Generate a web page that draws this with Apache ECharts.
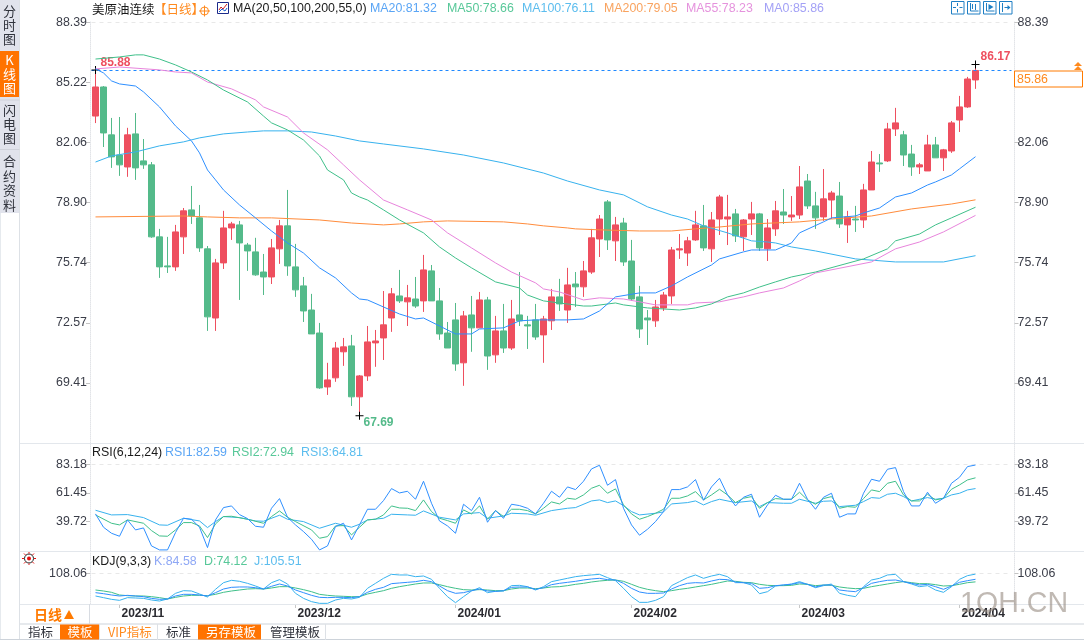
<!DOCTYPE html>
<html><head><meta charset="utf-8">
<style>html,body{margin:0;padding:0;background:#fff}#c{width:1084px;height:640px}</style>
<script src="https://cdn.jsdelivr.net/npm/echarts@6/dist/echarts.min.js"></script>
</head><body><div id="c"></div>
<script>
const categories = ("2023/10/27,2023/10/30,2023/10/31,2023/11/01,2023/11/02,2023/11/03,2023/11/06,2023/11/07,2023/11/08,2023/11/09,2023/11/10,2023/11/13,2023/11/14,2023/11/15,2023/11/16,2023/11/17,2023/11/20,2023/11/21,2023/11/22,2023/11/23,2023/11/24,2023/11/27,2023/11/28,2023/11/29,2023/11/30,2023/12/01,2023/12/04,2023/12/05,2023/12/06,2023/12/07,2023/12/08,2023/12/11,2023/12/12,2023/12/13,2023/12/14,2023/12/15,2023/12/18,2023/12/19,2023/12/20,2023/12/21,2023/12/22,2023/12/26,2023/12/27,2023/12/28,2023/12/29,2024/01/02,2024/01/03,2024/01/04,2024/01/05,2024/01/08,2024/01/09,2024/01/10,2024/01/11,2024/01/12,2024/01/15,2024/01/16,2024/01/17,2024/01/18,2024/01/19,2024/01/22,2024/01/23,2024/01/24,2024/01/25,2024/01/26,2024/01/29,2024/01/30,2024/01/31,2024/02/01,2024/02/02,2024/02/05,2024/02/06,2024/02/07,2024/02/08,2024/02/09,2024/02/12,2024/02/13,2024/02/14,2024/02/15,2024/02/16,2024/02/19,2024/02/20,2024/02/21,2024/02/22,2024/02/23,2024/02/26,2024/02/27,2024/02/28,2024/02/29,2024/03/01,2024/03/04,2024/03/05,2024/03/06,2024/03/07,2024/03/08,2024/03/11,2024/03/12,2024/03/13,2024/03/14,2024/03/15,2024/03/18,2024/03/19,2024/03/20,2024/03/21,2024/03/22,2024/03/25,2024/03/26,2024/03/27,2024/03/28,2024/04/01,2024/04/02,2024/04/03").split(",");
const blankCategories = ["", "", "", ""];
const monthTickIndex = [3, 25, 45, 67, 88, 108];
const monthTickLabels = ["2023/11", "2023/12", "2024/01", "2024/02", "2024/03", "2024/04"];

const opens = [83.46,84.99,82.47,81.41,80.78,82.52,81.10,80.89,77.10,75.57,75.52,77.10,78.52,78.10,76.47,72.83,75.73,77.57,77.73,76.67,76.31,75.25,74.99,76.47,77.68,75.52,74.52,73.25,72.04,69.20,69.68,71.05,71.36,68.68,69.78,71.52,71.78,72.83,73.99,73.68,73.83,73.73,75.31,73.73,72.04,72.73,70.47,72.99,72.31,73.78,70.89,72.15,71.25,72.99,72.47,72.73,71.94,72.68,73.94,73.25,74.62,74.47,75.25,76.99,78.94,76.89,77.83,75.83,73.94,72.83,72.68,73.36,73.99,76.41,76.25,76.94,77.68,76.47,78.04,78.04,78.31,77.10,78.04,78.31,76.47,77.52,78.41,78.15,78.25,80.04,78.73,78.15,79.04,79.25,77.73,78.04,77.99,79.57,80.99,81.10,82.78,82.47,81.46,80.78,80.57,81.94,81.26,81.62,83.25,83.94,85.36];
const closes = [84.99,82.57,81.31,80.89,82.47,80.73,80.89,77.10,75.52,75.52,77.36,78.47,78.20,76.52,72.89,75.73,77.57,77.78,76.78,76.36,75.10,74.99,76.52,77.68,75.57,74.31,73.20,71.99,69.15,69.57,71.25,71.31,68.68,69.78,71.57,71.62,72.47,74.10,73.73,73.89,73.46,75.36,73.73,71.99,71.25,70.41,72.94,72.31,73.78,70.83,72.15,71.25,72.78,72.68,72.41,71.83,72.78,73.94,73.57,74.57,74.47,75.31,77.05,78.04,76.94,77.73,75.78,73.83,72.25,72.73,73.41,74.04,76.41,76.47,76.89,77.73,76.52,77.99,79.20,78.15,77.15,77.99,78.31,76.52,77.57,78.47,78.25,78.25,79.73,78.73,78.10,79.10,79.41,77.78,78.15,77.99,79.57,81.04,80.94,82.78,83.10,81.41,80.78,80.89,81.94,81.26,81.68,83.10,83.94,85.41,85.86];
const lows = [83.09,81.83,80.73,80.31,80.26,80.10,80.68,77.05,74.94,75.20,75.31,76.20,77.78,76.31,72.15,72.15,75.41,76.94,73.78,75.31,75.05,74.04,74.62,75.68,75.05,73.94,72.62,71.99,69.10,68.78,69.47,70.31,68.20,67.69,69.52,70.26,70.62,72.10,73.62,72.41,73.36,73.15,73.73,71.68,71.25,70.05,69.26,71.05,72.31,70.10,70.47,70.99,71.15,72.41,71.20,71.68,70.47,72.20,73.20,72.57,73.41,73.94,75.15,76.04,76.41,75.83,75.57,73.73,71.78,71.41,72.36,73.20,73.57,75.94,75.57,76.89,76.36,75.78,77.20,76.67,76.83,76.36,77.20,76.36,75.83,77.15,77.78,77.94,78.04,78.57,77.52,77.94,78.04,77.57,76.78,77.36,77.57,79.57,80.52,81.04,82.41,80.83,80.31,80.41,80.57,81.26,80.57,81.52,82.62,83.89,84.89];
const highs = [85.88,85.04,83.36,83.41,82.84,83.62,82.25,81.04,77.52,77.10,77.73,78.62,79.78,78.78,76.62,75.94,78.47,77.89,77.94,76.78,77.05,76.20,76.99,77.99,79.57,76.73,74.99,74.10,72.57,70.47,71.57,71.78,71.94,69.83,72.41,72.20,74.25,74.41,75.36,74.57,74.99,76.15,75.62,74.41,72.62,73.62,73.20,73.99,74.20,73.94,72.94,73.57,73.78,75.25,72.94,73.57,72.94,74.36,74.89,75.47,75.25,75.83,77.52,78.25,79.04,78.15,78.10,76.94,74.52,73.25,73.78,74.20,76.57,77.25,77.10,78.47,78.78,78.41,79.31,79.31,78.57,78.04,78.94,78.36,78.04,78.99,79.62,79.25,80.83,80.41,79.47,80.67,79.52,79.99,78.47,78.73,79.89,81.62,81.46,83.10,83.89,82.68,81.94,80.99,82.47,82.36,81.73,83.20,84.52,85.52,86.17];

// readings taken at the candle index given first
const ma20 = [[0,85.94],[1,85.73],[2,85.31],[3,85.15],[5,85.04],[6,84.73],[8,83.94],[10,82.94],[12,82.15],[13,81.52],[14,80.62],[15,80.10],[16,79.57],[18,78.78],[20,78.10],[22,77.41],[24,76.78],[26,76.25],[28,75.47],[30,74.94],[32,74.15],[33,73.83],[34,73.78],[36,73.41],[38,73.04],[40,72.78],[41,72.83],[43,72.41],[45,71.99],[47,71.99],[48,72.25],[51,72.31],[53,72.68],[55,72.73],[59,72.73],[61,72.78],[63,73.20],[65,73.94],[68,74.15],[70,74.15],[72,74.52],[74,74.99],[77,75.62],[78,75.94],[81,76.31],[82,76.41],[85,76.41],[87,76.78],[88,77.31],[91,77.89],[92,78.10],[95,78.20],[96,78.36],[98,78.62],[100,79.20],[102,79.41],[104,79.83],[105,79.99],[107,80.36],[108,80.68],[110,81.32]];
const ma50 = [[0,86.46],[3,86.57],[5,86.68],[6,86.68],[8,86.46],[10,86.15],[12,85.78],[14,85.36],[16,84.83],[19,84.20],[21,83.46],[22,83.10],[24,82.73],[26,82.20],[28,81.36],[29,80.62],[31,80.10],[32,79.41],[33,79.20],[34,79.04],[36,78.52],[38,77.99],[41,77.31],[43,76.57],[45,75.99],[47,75.47],[50,74.73],[53,74.41],[54,74.04],[56,73.73],[58,73.62],[61,73.46],[62,73.46],[65,73.62],[66,73.52],[69,73.36],[73,73.25],[75,73.36],[77,73.57],[79,73.94],[81,74.15],[83,74.46],[85,74.73],[87,74.99],[90,75.25],[96,75.94],[99,76.47],[100,76.89],[103,77.25],[105,77.73],[107,78.10],[110,78.66]];
const ma100 = [[0,81.04],[2,81.36],[5,81.57],[8,81.89],[11,82.10],[13,82.31],[16,82.52],[19,82.62],[21,82.68],[24,82.68],[27,82.62],[30,82.41],[33,82.15],[36,81.99],[41,81.73],[46,81.41],[51,80.99],[56,80.46],[59,80.04],[63,79.57],[66,79.31],[69,78.68],[72,78.25],[74,78.04],[76,77.68],[79,77.31],[82,76.89],[84,76.83],[85,76.78],[87,76.57],[90,76.36],[95,75.94],[100,75.78],[106,75.78],[110,76.11]];
const ma200 = [[0,78.15],[11,78.20],[14,78.15],[18,78.10],[22,78.10],[28,77.99],[32,77.83],[36,77.73],[38,77.78],[41,77.89],[44,77.94],[51,77.89],[54,77.78],[56,77.68],[59,77.57],[60,77.52],[63,77.47],[68,77.41],[72,77.41],[75,77.52],[78,77.62],[82,77.78],[88,77.89],[92,78.04],[97,78.20],[102,78.57],[107,78.83],[110,79.05]];
const ma55 = [[0,85.94],[3,86.04],[8,85.89],[10,85.78],[12,85.73],[14,85.25],[17,84.89],[20,84.31],[21,83.94],[24,83.41],[26,82.57],[29,81.68],[31,80.89],[33,80.10],[36,79.04],[39,78.52],[42,77.99],[44,77.31],[47,76.52],[50,75.73],[52,75.25],[55,74.68],[56,74.36],[58,74.20],[61,73.78],[63,73.89],[66,73.83],[68,73.68],[70,73.52],[74,73.52],[75,73.62],[78,73.68],[81,73.94],[83,74.15],[86,74.41],[88,74.78],[90,75.20],[97,75.78],[100,76.47],[103,76.83],[106,77.36],[110,78.23]];

const rsi1 = [45.64,35.56,31.02,28.75,41.10,33.54,35.05,21.45,18.42,18.42,31.52,42.36,41.60,35.56,20.18,41.10,50.42,51.68,45.13,42.11,36.31,35.56,49.92,57.23,43.12,37.32,32.28,26.48,18.42,21.45,36.06,38.58,25.98,37.32,49.16,49.16,55.72,64.79,61.51,62.77,56.72,70.33,53.70,40.34,36.56,31.02,52.94,48.16,58.24,39.34,48.16,42.36,52.94,51.94,49.92,45.64,53.70,62.77,58.24,66.05,64.03,70.33,79.66,82.43,67.31,71.59,49.92,37.32,29.51,34.04,39.84,47.40,64.03,64.03,66.05,71.59,55.97,66.05,72.60,60.00,51.68,58.24,60.50,43.12,52.44,59.75,56.72,56.72,68.82,56.72,49.16,58.24,61.26,43.12,45.64,45.64,61.26,71.84,70.33,79.40,80.66,62.52,51.68,51.68,62.02,53.70,57.48,68.82,73.36,81.42,82.59];
const rsi2 = [[0,44.88],[2,38.58],[3,37.32],[4,41.10],[6,38.58],[7,33.03],[8,29.00],[9,28.75],[10,33.54],[11,39.08],[12,39.08],[13,36.56],[14,27.74],[15,38.08],[16,43.62],[17,43.87],[19,41.60],[21,38.58],[22,43.62],[23,47.90],[24,43.12],[25,39.84],[27,33.54],[28,27.24],[29,28.50],[30,36.56],[31,36.82],[32,29.76],[33,35.56],[34,41.10],[35,41.60],[36,44.88],[37,51.68],[38,50.17],[39,49.92],[40,48.16],[41,56.22],[42,47.40],[43,42.36],[44,40.60],[45,38.58],[46,48.66],[47,45.64],[48,51.68],[49,41.60],[50,48.16],[51,43.62],[52,49.16],[53,49.16],[54,48.16],[55,45.64],[56,49.92],[57,54.71],[58,53.20],[59,57.48],[60,56.72],[61,60.00],[62,65.04],[63,67.31],[64,61.26],[65,64.54],[66,52.44],[67,45.64],[68,41.60],[69,43.62],[70,46.14],[71,49.16],[72,57.48],[73,57.48],[74,59.24],[75,62.52],[76,56.22],[77,60.00],[78,64.28],[79,60.00],[80,54.20],[81,57.48],[82,58.74],[83,49.92],[84,54.20],[85,57.23],[86,56.72],[87,56.72],[88,62.02],[89,56.22],[90,52.94],[91,57.23],[92,58.74],[93,49.92],[94,51.18],[95,50.68],[96,57.23],[97,63.78],[98,62.52],[99,68.82],[100,70.33],[101,60.00],[102,55.46],[103,55.46],[104,60.50],[105,56.22],[106,57.48],[107,64.28],[108,67.56],[109,71.34],[110,72.94]];
const rsi3 = [[0,48.41],[2,44.88],[4,45.13],[6,42.86],[8,37.32],[9,37.07],[11,42.36],[13,40.34],[14,35.30],[15,39.84],[16,43.62],[18,42.86],[20,40.34],[21,40.09],[23,44.63],[24,41.60],[26,39.84],[28,34.80],[30,38.58],[32,35.56],[33,37.82],[34,41.10],[36,42.36],[37,45.38],[39,44.88],[40,44.63],[41,47.90],[43,43.12],[45,41.10],[46,45.64],[48,46.64],[49,42.36],[51,44.12],[52,46.14],[54,45.64],[55,44.63],[57,48.16],[59,49.92],[60,50.42],[62,55.46],[63,56.22],[64,54.20],[65,55.46],[66,51.94],[67,47.40],[68,44.88],[70,46.14],[71,47.15],[72,53.20],[74,54.20],[75,55.46],[76,52.44],[77,54.96],[78,56.72],[80,54.20],[82,55.46],[83,51.18],[84,54.20],[86,53.70],[87,53.70],[88,56.72],[90,53.70],[91,55.21],[92,55.46],[93,51.18],[95,52.19],[96,54.96],[97,57.98],[98,57.48],[99,60.50],[100,61.26],[101,58.74],[102,55.46],[104,57.98],[105,56.72],[106,57.48],[107,60.00],[108,61.26],[109,63.78],[110,64.81]];

const kdjK = [30.4,26.3,21.0,16.9,19.6,16.9,14.2,7.4,3.4,4.8,16.9,23.6,23.6,21.0,16.9,30.4,45.2,52.0,53.4,53.4,50.6,45.2,56.0,65.5,57.4,41.2,30.4,19.6,11.5,10.2,11.5,11.5,10.2,14.2,31.8,43.9,52.0,66.9,69.6,72.3,75.0,80.4,75.0,57.4,38.5,27.7,30.4,38.5,45.2,37.2,35.8,38.5,52.0,53.4,53.4,43.9,50.6,62.8,68.2,72.3,76.3,81.7,85.8,88.5,83.1,81.7,68.2,48.0,33.1,27.7,27.7,29.0,45.2,58.8,68.2,70.9,69.6,77.6,84.4,83.1,73.6,70.9,68.2,48.0,50.6,58.8,61.4,64.2,70.9,64.2,53.4,61.4,61.4,41.2,37.2,34.4,50.6,68.2,75.0,80.4,81.7,75.0,68.2,61.4,64.2,54.7,43.9,57.4,72.3,79.0,84.58];
const kdjD = [41.2,37.2,31.8,21.0,18.3,16.9,16.9,14.2,10.2,4.8,11.5,16.9,19.6,19.6,18.3,23.6,31.8,37.2,41.2,45.2,46.6,45.2,49.3,54.7,54.7,49.3,42.6,34.4,23.6,19.6,16.9,15.6,14.2,14.2,25.0,31.8,38.5,48.0,54.7,60.1,65.5,69.6,69.6,62.8,54.7,48.0,42.6,41.2,42.6,41.2,38.5,38.5,45.2,49.3,49.3,46.6,49.3,53.4,54.7,58.8,64.2,68.2,73.6,77.6,80.4,81.7,76.3,64.2,52.0,43.9,38.5,34.4,38.5,43.9,48.0,53.4,58.8,64.2,70.9,77.6,76.3,72.3,70.9,64.2,60.1,58.8,58.8,60.1,65.5,64.2,58.8,61.4,60.1,53.4,49.3,46.6,48.0,54.7,60.1,65.5,70.9,75.0,70.9,66.9,66.9,62.8,57.4,58.8,64.2,70.9,74.12];
const kdjJ = [16.9,10.2,3.4,-0.7,10.2,8.8,7.4,0.7,-3.4,4.8,27.7,38.5,37.2,25.0,12.8,43.9,70.9,80.4,76.3,68.2,57.4,45.2,70.9,83.1,65.5,27.7,7.4,-6.0,-12.8,-12.8,0.7,7.4,4.8,11.5,48.0,68.2,88.5,104.6,102.0,102.0,95.2,97.9,84.4,48.0,14.2,-10.1,14.2,37.2,50.6,30.4,35.8,37.2,58.8,60.1,54.7,41.2,54.7,75.0,81.7,88.5,95.2,99.3,102.0,104.6,91.2,79.0,48.0,14.2,-8.8,-8.8,-0.7,14.2,58.8,75.0,91.2,102.0,88.5,97.9,104.6,95.2,70.9,70.9,61.4,26.3,34.4,57.4,61.4,65.5,75.0,64.2,50.6,58.8,65.5,27.7,19.6,14.2,54.7,81.7,88.5,102.0,104.6,75.0,65.5,54.7,58.8,41.2,31.8,54.7,84.4,99.3,105.51];

const priceTicks = [88.39, 85.22, 82.06, 78.90, 75.74, 72.57, 69.41];
const rsiTicks = [83.18, 61.45, 39.72];
const kdjTicks = [108.06];
const lastClose = 85.86;

const C = {ma20:'#2e8fff',ma50:'#3fc08a',ma100:'#37b2ee',ma200:'#ff8c3c',ma55:'#e884dc',up:'#ee4f5f',down:'#54ba8a',orange:'#ff7a00'};
const FONT = '"Liberation Sans",Arial,sans-serif';
const CJK = '"Noto Sans CJK SC",sans-serif';

const chart = echarts.init(document.getElementById('c'), null, {renderer:'canvas'});

const axisCats = categories.concat(blankCategories);
function xAx(grid, show){
  return {type:'category',gridIndex:grid,data:axisCats,boundaryGap:true,
    axisPointer:{show:false},
    axisLine:{show:show,onZero:false,lineStyle:{color:'#e3e7ec'}},
    axisTick:{show:show,alignWithLabel:true,length:4,lineStyle:{color:'#c8c8c8'},interval:(i)=>monthTickIndex.includes(i)},
    axisLabel:{show:show,interval:(i)=>monthTickIndex.includes(i),align:'left',margin:4,padding:[0,0,0,2],
      formatter:(v,i)=>monthTickLabels[monthTickIndex.indexOf(i)]||'',
      fontWeight:'bold',fontSize:12,fontFamily:FONT,color:'#2a2a30'},
    splitLine:{show:false}};
}
function yAx(grid,pos,min,max,ticks,off,padBottom){
  return {type:'value',gridIndex:grid,position:pos,min,max,offset:off,scale:true,
    axisLine:{show:true,lineStyle:{color:'#e2e4e8',type:'dotted'}},
    axisTick:{show:true,length:4,customValues:ticks,lineStyle:{color:'#c4c4c4'}},
    minorTick:{show:false},
    axisLabel:{show:true,customValues:ticks,formatter:(v)=>v.toFixed(2),margin:3,padding:[0,0,padBottom,0],
      fontSize:12.4,fontFamily:FONT,color:'#3a3d48'},
    splitLine:{show:false}};
}
const grids=[{left:91.5,width:920,top:22,height:421},{left:91.5,width:920,top:444,height:107},{left:91.5,width:920,top:553,height:51}];
function lineS(name,data,color,x,y,extra){
  return Object.assign({type:'line',name,data,xAxisIndex:x,yAxisIndex:y,symbol:'none',showSymbol:false,
    lineStyle:{color,width:1},itemStyle:{color},silent:true,animation:false,z:5},extra||{});
}
const candles = opens.map((o,i)=>[o,closes[i],lows[i],highs[i]]);
const cross='path://M0,3.5H8V4.5H0ZM3.5,0H4.5V8H3.5Z';
function mark(i,val,color,off,pos){
  return {coord:[i,val],symbol:cross,symbolSize:8,itemStyle:{color:'#000'},
    label:{show:true,formatter:val.toFixed(2),position:pos||'right',distance:0,offset:off,fontWeight:'bold',fontSize:12,fontFamily:FONT,color}};
}
const series=[
 {type:'candlestick',xAxisIndex:0,yAxisIndex:0,data:candles,barWidth:7,silent:true,animation:false,
  itemStyle:{color:C.up,color0:C.down,borderColor:C.up,borderColor0:C.down,borderWidth:1},
  markLine:{silent:true,symbol:'none',animation:false,label:{show:false},data:[
    {yAxis:lastClose,lineStyle:{color:'#1e88ff',type:[3,3],width:1}},
    {yAxis:priceTicks[0],lineStyle:{color:'#e8e8e8',type:[4,4],width:1}}]},
  markPoint:{silent:true,animation:false,data:[
    mark(0,highs[0],C.up,[1,-7]),
    mark(33,lows[33],C.down,[0,7]),
    mark(110,highs[110],C.up,[1,-8])]}},
 lineS('MA200',ma200,C.ma200,0,0),
 lineS('MA100',ma100,C.ma100,0,0),
 lineS('MA55',ma55,C.ma55,0,0),
 lineS('MA50',ma50,C.ma50,0,0),
 lineS('MA20',ma20,C.ma20,0,0),
 lineS('RSI3',rsi3,C.ma100,1,2,{markLine:{silent:true,symbol:'none',animation:false,label:{show:false},data:[{yAxis:rsiTicks[0],lineStyle:{color:'#e8e8e8',type:[4,4],width:1}}]}}),
 lineS('RSI2',rsi2,C.ma50,1,2),
 lineS('RSI1',rsi1,C.ma20,1,2),
 lineS('J',kdjJ,C.ma100,2,4,{markLine:{silent:true,symbol:'none',animation:false,label:{show:false},data:[{yAxis:kdjTicks[0],lineStyle:{color:'#e8e8e8',type:[4,4],width:1}}]}}),
 lineS('D',kdjD,C.ma50,2,4),
 lineS('K',kdjK,C.ma20,2,4)
];

// page furniture
const g=[];
const T=(x,y,text,fill,font,align,z)=>g.push({type:'text',z:z||50,silent:true,style:{x,y,text,fill,font:font||('12.4px '+FONT),textAlign:align||'left',textVerticalAlign:'middle'}});
const R=(x,y,w,h,fill,stroke,z)=>g.push({type:'rect',z:z||40,silent:true,shape:{x,y,width:w,height:h},style:{fill:fill||'none',stroke:stroke||'none',lineWidth:1}});
const L=(x1,y1,x2,y2,stroke,z)=>g.push({type:'line',z:z||40,silent:true,shape:{x1,y1,x2,y2},style:{stroke,lineWidth:1}});
const P=(pts,stroke,fill,z)=>g.push({type:'polyline',z:z||45,silent:true,shape:{points:pts},style:{stroke:stroke||'none',fill:fill||'none',lineWidth:1}});

// left rail
R(0,0,19.5,213,'#e1e3ec');
R(0,51,19.5,46,'#ff7300');
L(0.5,213,0.5,640,'#e6eaee'); L(19.5,0,19.5,640,'#dde1e6');
L(0,100,19.5,100,'#cfd2da'); L(0,149.5,19.5,149.5,'#cfd2da');
const vert=(y,t,fill)=>g.push({type:'text',z:50,silent:true,style:{x:9.5,y,text:t,fill,font:'13px '+CJK,lineHeight:14.4,textAlign:'center',textVerticalAlign:'middle'}});
vert(25,'分\n时\n图','#30333c');
vert(74,'K\n线\n图','#fff');
vert(124,'闪\n电\n图','#30333c');
vert(183,'合\n约\n资\n料','#30333c');

// pane dividers
L(20,443.5,1084,443.5,'#e3e7ec'); L(20,551.5,1084,551.5,'#e3e7ec'); L(20,604.5,1084,604.5,'#e3e7ec');
L(20,624,1084,624,'#cdd3da'); L(0,639.5,1084,639.5,'#cdd3da'); L(89.5,604,89.5,624,'#d8dce2');

// main header
T(92,9,'美原油连续','#1a1a1a','12.5px '+CJK);
T(154,9,'【日线】','#ff8a1e','12.5px '+CJK);
g.push({type:'circle',z:50,silent:true,shape:{cx:204.5,cy:11,r:4},style:{fill:'none',stroke:'#ff8a1e',lineWidth:1}});
L(199,11,210,11,'#ff8a1e',50); L(204.5,5.5,204.5,16.5,'#ff8a1e',50);
R(217.5,2.5,11,11,'#fff','#1c2a8a',50);
P([[219,10],[221,7],[223,9],[227,4]],'#d02020',null,51);
P([[219,12],[222,9],[225,11],[227,8]],'#1c5fd0',null,51);
T(233,9,'MA(20,50,100,200,55,0)','#1a1a1a');
T(370,9,'MA20:81.32','#5aa5f5');
T(447,9,'MA50:78.66','#58c899');
T(522,9,'MA100:76.11','#5cbdee');
T(604,9,'MA200:79.05','#f9a35f');
T(686,9,'MA55:78.23','#e593dd');
T(764,9,'MA0:85.86','#a3a1f6');

// toolbar icons
[[951.5],[967.5],[983.5],[999.5]].forEach(([x],k)=>{
  R(x,1.5,12.5,12.5,'#fff','#1f7fc4',50);
  if(k===0){L(x+6,3,x+6,6,'#1f7fc4',51);L(x+6,9,x+6,12.5,'#1f7fc4',51);L(x+1.5,7.5,x+4.5,7.5,'#1f7fc4',51);L(x+8,7.5,x+11,7.5,'#1f7fc4',51);}
  if(k===1){L(x+3,3,x+3,11,'#1f7fc4',51);L(x+3,11,x+11,11,'#1f7fc4',51);L(x+8,4,x+8,10,'#1f7fc4',51);L(x+5,4,x+5,9,'#1f7fc4',51);}
  if(k===2){L(x+3,3,x+3,11,'#1f7fc4',51);L(x+3,11,x+11,11,'#1f7fc4',51);P([[x+5,4],[x+10,7],[x+5,10]],null,'#1f7fc4',51);}
  if(k===3){L(x+3,3,x+3,12,'#1f7fc4',51);L(x+5,7.5,x+9,7.5,'#1f7fc4',51);P([[x+8,5],[x+11,7.5],[x+8,10]],null,'#1f7fc4',51);}
});

// last-price tag
R(1014.5,71,68,16,'#fff','#ff7a00',50);
T(1017,79.5,lastClose.toFixed(2),'#ff8a1e','12.4px '+FONT,'left',51);
P([[1074,66],[1078,62],[1082,66]],null,'#ff8a1e',51);
P([[1074,70],[1078,66],[1082,70]],null,'#ff8a1e',51);

// RSI / KDJ headers
T(92,452.5,'RSI(6,12,24)','#1a1a1a');
T(165,452.5,'RSI1:82.59','#5aa5f5');
T(232,452.5,'RSI2:72.94','#58c899');
T(301,452.5,'RSI3:64.81','#5cbdee');
T(92,561.5,'KDJ(9,3,3)','#1a1a1a');
T(154,561.5,'K:84.58','#8fa8f5');
T(204,561.5,'D:74.12','#58c899');
T(254,561.5,'J:105.51','#5cbdee');

// sun icon
g.push({type:'circle',z:50,silent:true,shape:{cx:29,cy:558.5,r:4.5},style:{fill:'#fff',stroke:'#222',lineWidth:1}});
g.push({type:'circle',z:51,silent:true,shape:{cx:29,cy:558.5,r:2},style:{fill:'#e81010'}});
[[22,558.5,24,558.5],[34,558.5,36,558.5],[29,552,29,553.5],[29,563.5,29,565],[24,553.5,25.5,555],[32.5,562,34,563.5],[24,563.5,25.5,562],[32.5,555,34,553.5]].forEach(a=>L(a[0],a[1],a[2],a[3],'#e81010',50));

// bottom strip
T(34,615,'日线','#ff7a00','bold 14px '+CJK);
P([[64,619],[69,610],[74,619],[64,619]],null,'#ff7a00',50);
T(28,632,'指标','#30333c','12.5px '+CJK);
R(60,624.5,39,15,'#ff7300');
T(67.5,632,'模板','#fff','12.5px '+CJK);
L(99.5,624,99.5,640,'#dde1e6');
T(108,632,'VIP指标','#ff8a1e','12.5px '+CJK);
L(157.5,624,157.5,640,'#dde1e6');
T(166,632,'标准','#30333c','12.5px '+CJK);
R(198,624.5,63,15,'#ff7300');
T(206,632,'另存模板','#fff','12.5px '+CJK);
T(270,632,'管理模板','#30333c','12.5px '+CJK);
L(325.5,624,325.5,640,'#dde1e6');

// watermark
g.push({type:'text',z:100,silent:true,style:{x:960,y:604,text:'1QH.CN',fill:'rgba(150,138,128,0.6)',font:'28.6px '+FONT,textAlign:'left',textVerticalAlign:'middle'}});

chart.setOption({
  animation:false,backgroundColor:'#fff',
  grid:grids,
  xAxis:[xAx(0,false),xAx(1,false),xAx(2,true)],
  yAxis:[
    yAx(0,'left',66.25,88.41,priceTicks,1.5,5),yAx(0,'right',66.25,88.41,priceTicks,3,5),
    yAx(1,'left',17.6,98.5,rsiTicks,1.5,3),yAx(1,'right',17.6,98.5,rsiTicks,3,3),
    yAx(2,'left',-15.5,191,kdjTicks,1.5,3),yAx(2,'right',-15.5,191,kdjTicks,3,3)],
  series,
  graphic:{elements:g}
});
</script></body></html>
